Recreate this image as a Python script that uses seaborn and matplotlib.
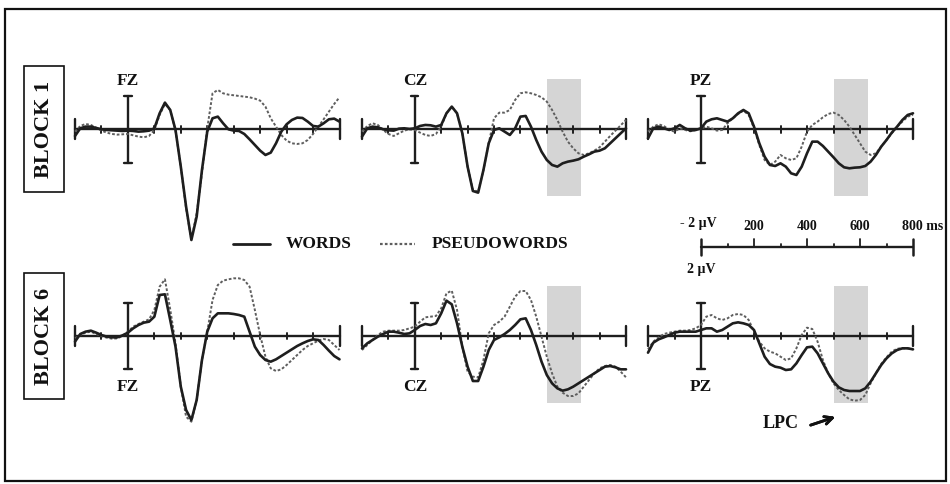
import numpy as np
import pandas as pd
import matplotlib
matplotlib.use("Agg")
import matplotlib.pyplot as plt
from matplotlib.patches import Rectangle
from matplotlib.lines import Line2D
import seaborn as sns

sns.set_theme(style="white")
plt.rcParams["font.family"] = ["Liberation Serif", "DejaVu Serif"]
plt.rcParams["font.weight"] = "bold"

# ---------------- data (µV, negative plotted upwards) ----------------
time_ms = list(range(-200, 801, 20))
electrodes = ["FZ", "CZ", "PZ"]
blocks = ["BLOCK 1", "BLOCK 6"]
conditions = ["WORDS", "PSEUDOWORDS"]
window_ms = [500, 630]
window_uv = [-3.0, 4.0]
scale_tick_labels = ["200", "400", "600", "800 ms"]
scale_uv_labels = ["- 2 µV", "2 µV"]

fz_b1_words = [0.40, -0.06, -0.16, -0.16, -0.08, 0.00, 0.04, 0.06, 0.08, 0.10,
               0.08, 0.10, 0.14, 0.12, 0.08, -0.06, -0.96, -1.60, -1.16, 0.04,
               2.24, 4.64, 6.64, 5.24, 2.44, 0.14, -0.66, -0.76, -0.36, 0.00,
               0.08, 0.10, 0.28, 0.60, 0.94, 1.28, 1.54, 1.40, 0.84, 0.14,
               -0.30, -0.56, -0.70, -0.68, -0.46, -0.20, -0.16, -0.36, -0.60, -0.64,
               -0.46]
fz_b1_pseudo = [0.14, -0.20, -0.32, -0.26, -0.10, 0.08, 0.20, 0.28, 0.32, 0.30,
                0.28, 0.36, 0.44, 0.48, 0.40, 0.04, -0.86, -1.52, -1.16, 0.08,
                2.24, 4.74, 6.64, 5.04, 2.64, -0.06, -2.16, -2.36, -2.16, -2.08,
                -2.04, -2.00, -1.96, -1.92, -1.84, -1.72, -1.36, -0.66, -0.16, 0.34,
                0.68, 0.84, 0.88, 0.84, 0.64, 0.28, -0.16, -0.60, -1.06, -1.52,
                -1.92]
cz_b1_words = [0.44, -0.06, -0.16, -0.12, 0.00, 0.06, 0.08, -0.04, -0.06, -0.02,
               -0.06, -0.20, -0.26, -0.24, -0.16, -0.26, -0.96, -1.36, -0.96, 0.24,
               2.24, 3.70, 3.80, 2.44, 0.84, 0.04, -0.06, 0.14, 0.34, -0.06,
               -0.76, -0.80, -0.16, 0.64, 1.34, 1.84, 2.14, 2.24, 2.04, 1.94,
               1.88, 1.80, 1.64, 1.50, 1.34, 1.28, 1.14, 0.84, 0.54, 0.24,
               -0.06]
cz_b1_pseudo = [0.14, -0.20, -0.36, -0.26, 0.04, 0.28, 0.40, 0.24, 0.08, 0.00,
                0.04, 0.20, 0.34, 0.40, 0.28, -0.16, -0.96, -1.36, -0.96, 0.24,
                2.24, 3.64, 3.74, 2.44, 0.84, -0.66, -1.00, -1.00, -1.16, -1.76,
                -2.16, -2.22, -2.16, -2.06, -1.92, -1.66, -1.16, -0.56, 0.14, 0.74,
                1.14, 1.44, 1.54, 1.44, 1.28, 1.08, 0.74, 0.40, 0.08, -0.24,
                -0.56]
pz_b1_words = [0.54, -0.06, -0.16, -0.06, 0.04, -0.06, -0.26, -0.06, 0.08, 0.04,
               -0.06, -0.46, -0.60, -0.66, -0.56, -0.46, -0.66, -0.96, -1.16, -0.96,
               -0.16, 0.84, 1.64, 2.14, 2.20, 2.04, 2.24, 2.64, 2.74, 2.24,
               1.44, 0.74, 0.74, 1.00, 1.34, 1.68, 2.04, 2.28, 2.34, 2.30,
               2.28, 2.20, 1.94, 1.54, 1.04, 0.64, 0.20, -0.16, -0.56, -0.86,
               -0.96]
pz_b1_pseudo = [0.14, -0.16, -0.30, -0.20, 0.04, 0.14, -0.06, 0.04, 0.12, 0.04,
                -0.06, -0.16, -0.06, 0.08, 0.04, -0.36, -0.66, -0.92, -1.12, -0.86,
                -0.06, 0.94, 1.84, 2.14, 1.94, 1.54, 1.74, 1.84, 1.74, 1.04,
                0.14, -0.26, -0.46, -0.72, -0.92, -1.00, -0.86, -0.56, -0.16, 0.34,
                0.84, 1.34, 1.54, 1.44, 1.04, 0.64, 0.24, -0.16, -0.46, -0.76,
                -0.86]
fz_b6_words = [0.34, -0.12, -0.26, -0.32, -0.20, -0.06, 0.04, 0.08, 0.08, -0.04,
               -0.20, -0.46, -0.66, -0.80, -0.86, -1.16, -2.46, -2.50, -0.96, 0.64,
               3.04, 4.44, 5.04, 3.84, 1.44, -0.26, -1.06, -1.36, -1.36, -1.36,
               -1.32, -1.26, -1.16, -0.26, 0.64, 1.14, 1.44, 1.54, 1.40, 1.20,
               1.00, 0.80, 0.60, 0.44, 0.30, 0.20, 0.24, 0.54, 0.88, 1.20,
               1.40]
fz_b6_pseudo = [0.14, -0.06, -0.20, -0.26, -0.12, 0.00, 0.10, 0.16, 0.14, 0.00,
                -0.26, -0.56, -0.72, -0.86, -1.00, -1.56, -2.96, -3.40, -1.60, 0.44,
                3.04, 4.84, 5.14, 3.84, 1.44, -0.26, -2.16, -3.06, -3.32, -3.40,
                -3.46, -3.46, -3.36, -2.96, -1.56, -0.06, 1.24, 1.94, 2.10, 2.00,
                1.74, 1.44, 1.14, 0.84, 0.60, 0.44, 0.28, 0.18, 0.24, 0.54,
                0.84]
cz_b6_words = [0.74, 0.44, 0.24, 0.04, -0.12, -0.26, -0.26, -0.20, -0.12, -0.16,
               -0.36, -0.60, -0.72, -0.66, -0.76, -1.36, -2.12, -1.90, -0.76, 0.64,
               1.84, 2.70, 2.70, 1.84, 0.84, 0.24, 0.08, -0.12, -0.36, -0.66,
               -1.00, -1.06, -0.36, 0.54, 1.54, 2.34, 2.84, 3.14, 3.28, 3.20,
               3.04, 2.84, 2.64, 2.44, 2.24, 2.04, 1.84, 1.80, 1.88, 2.00,
               2.00]
cz_b6_pseudo = [0.84, 0.54, 0.24, -0.06, -0.26, -0.32, -0.32, -0.32, -0.36, -0.46,
                -0.56, -0.86, -1.12, -1.16, -1.20, -1.66, -2.56, -2.72, -1.56, 0.64,
                2.14, 2.44, 2.48, 1.44, -0.16, -0.66, -0.86, -1.16, -1.76, -2.36,
                -2.70, -2.70, -2.16, -1.16, 0.04, 1.24, 2.24, 3.04, 3.40, 3.60,
                3.60, 3.44, 3.04, 2.64, 2.24, 1.94, 1.80, 1.74, 1.84, 2.14,
                2.48]
pz_b6_words = [1.00, 0.40, 0.20, 0.08, -0.06, -0.20, -0.26, -0.26, -0.26, -0.26,
               -0.36, -0.46, -0.46, -0.26, -0.36, -0.56, -0.76, -0.82, -0.76, -0.66,
               -0.36, 0.44, 1.24, 1.68, 1.84, 1.90, 2.04, 2.00, 1.64, 1.14,
               0.68, 0.64, 1.04, 1.64, 2.24, 2.74, 3.08, 3.24, 3.30, 3.30,
               3.30, 3.14, 2.74, 2.24, 1.74, 1.34, 1.04, 0.84, 0.74, 0.74,
               0.80]
pz_b6_pseudo = [0.80, 0.34, 0.08, -0.12, -0.20, -0.26, -0.32, -0.32, -0.36, -0.46,
                -0.66, -1.16, -1.26, -1.06, -0.96, -1.06, -1.26, -1.32, -1.26, -0.96,
                -0.26, 0.34, 0.74, 0.94, 1.04, 1.24, 1.44, 1.34, 0.74, -0.06,
                -0.50, -0.42, 0.34, 1.44, 2.24, 2.84, 3.24, 3.54, 3.80, 3.88,
                3.84, 3.54, 2.84, 2.24, 1.68, 1.28, 0.94, 0.76, 0.74, 0.74,
                0.80]

series = {
    ("BLOCK 1", "FZ"): (fz_b1_words, fz_b1_pseudo),
    ("BLOCK 1", "CZ"): (cz_b1_words, cz_b1_pseudo),
    ("BLOCK 1", "PZ"): (pz_b1_words, pz_b1_pseudo),
    ("BLOCK 6", "FZ"): (fz_b6_words, fz_b6_pseudo),
    ("BLOCK 6", "CZ"): (cz_b6_words, cz_b6_pseudo),
    ("BLOCK 6", "PZ"): (pz_b6_words, pz_b6_pseudo),
}

# ---------------- layout ----------------
W, H = 950, 484
fig = plt.figure(figsize=(W / 100, H / 100), dpi=100)
fig.patch.set_facecolor("white")


def fx(px):
    return px / W


def fy(py):
    return 1 - py / H


PX_PER_UV = 16.67
UV_TOP, UV_BOT = -3.5, 7.0
col_left = [75, 362, 648]
col_right = [339.5, 626, 913]
row_axis = [129.3, 336.0]
INK = "#1e1e1e"
DOT = "#5e5e5e"
FS_LABEL = 12.5

for r, blk in enumerate(blocks):
    for c, el in enumerate(electrodes):
        L, R, A = col_left[c], col_right[c], row_axis[r]
        top = A + UV_TOP * PX_PER_UV
        bot = A + UV_BOT * PX_PER_UV
        ax = fig.add_axes([fx(L), fy(bot), (R - L) / W, (bot - top) / H])
        words, pseudo = series[(blk, el)]

        if el != "FZ":
            ax.add_patch(Rectangle((window_ms[0], window_uv[0]),
                                   window_ms[1] - window_ms[0],
                                   window_uv[1] - window_uv[0],
                                   facecolor="#d5d5d5", edgecolor="none", zorder=0))

        # time axis with ticks
        ax.plot([-200, 800], [0, 0], color=INK, lw=1.7, zorder=2, clip_on=False)
        for t in range(-100, 800, 100):
            if t != 0:
                ax.plot([t, t], [-0.2, 0.2], color=INK, lw=1.4, zorder=2, clip_on=False)
        for t in (-200, 800):
            ax.plot([t, t], [-0.6, 0.6], color=INK, lw=1.7, zorder=2, clip_on=False)
        # onset bar (+/- 2 µV)
        ax.plot([0, 0], [-2, 2], color=INK, lw=1.7, zorder=2, clip_on=False)
        for v in (-2, 2):
            ax.plot([-14, 14], [v, v], color=INK, lw=1.7, zorder=2, clip_on=False)

        sns.lineplot(x=time_ms, y=pseudo, ax=ax, color=DOT, linewidth=1.4,
                     linestyle=(0, (1.4, 1.0)), zorder=3)
        sns.lineplot(x=time_ms, y=words, ax=ax, color=INK, linewidth=1.9, zorder=4)
        for ln in ax.lines:
            ln.set_clip_on(False)

        ax.set_xlim(-200, 800)
        ax.set_ylim(UV_BOT, UV_TOP)
        ax.axis("off")

        onset_px = L + 0.2 * (R - L)
        ty = 81 if r == 0 else 387
        fig.text(fx(onset_px), fy(ty), el, ha="center", va="center",
                 fontsize=FS_LABEL, fontweight="bold", color="#111111")

# block labels
for r, blk in enumerate(blocks):
    A = row_axis[r]
    fig.add_artist(Rectangle((fx(24), fy(A + 63)), 40 / W, 126 / H,
                             transform=fig.transFigure, facecolor="white",
                             edgecolor="#111111", lw=1.2))
    fig.text(fx(44), fy(A), blk, rotation=90, ha="center", va="center",
             fontsize=16, fontweight="bold", color="#111111")

# legend
fig.add_artist(Line2D([fx(233), fx(270)], [fy(244), fy(244)], color=INK, lw=2.0))
fig.text(fx(286), fy(244), conditions[0], ha="left", va="center",
         fontsize=FS_LABEL, fontweight="bold", color="#111111")
fig.add_artist(Line2D([fx(380), fx(415)], [fy(244), fy(244)], color=DOT, lw=1.6,
                      linestyle=(0, (1.2, 1.0))))
fig.text(fx(432), fy(244), conditions[1], ha="left", va="center",
         fontsize=FS_LABEL, fontweight="bold", color="#111111")

# scale bar (same time mapping as the PZ column, 0..800 ms)
L, R = col_left[2], col_right[2]
sb = fig.add_axes([fx(L), fy(275), (R - L) / W, 55 / H])
sb.set_xlim(-200, 800)
sb.set_ylim(275, 220)
sb.axis("off")
sb.plot([0, 800], [247, 247], color=INK, lw=1.7, clip_on=False)
for t in (0, 800):
    sb.plot([t, t], [238.5, 254.5], color=INK, lw=1.8, clip_on=False)
for t in range(100, 800, 100):
    y0 = 239 if t % 200 == 0 else 243.5
    sb.plot([t, t], [y0, 247], color=INK, lw=1.3, clip_on=False)
for t, lab in zip([200, 400, 600], scale_tick_labels[:3]):
    sb.text(t, 227, lab, ha="center", va="center", fontsize=10, fontweight="bold",
            color="#111111")
sb.text(757, 227, scale_tick_labels[3], ha="left", va="center", fontsize=10,
        fontweight="bold", color="#111111")
fig.text(fx(698), fy(223), scale_uv_labels[0], ha="center", va="center",
         fontsize=10, fontweight="bold", color="#111111")
fig.text(fx(701), fy(270), scale_uv_labels[1], ha="center", va="center",
         fontsize=10, fontweight="bold", color="#111111")

# LPC annotation
fig.text(fx(763), fy(424), "LPC", ha="left", va="center", fontsize=13,
         fontweight="bold", color="#111111")
fig.add_artist(plt.annotate("", xy=(fx(838), fy(416)), xytext=(fx(808), fy(426)),
                            xycoords="figure fraction", textcoords="figure fraction",
                            arrowprops=dict(arrowstyle="->", lw=2.0, color="#111111",
                                            mutation_scale=14)))

# outer frame
fig.add_artist(Rectangle((fx(5), fy(481)), 941 / W, 472 / H,
                         transform=fig.transFigure, facecolor="none",
                         edgecolor="#111111", lw=1.6))

fig.savefig("out.png", dpi=100, facecolor="white")
